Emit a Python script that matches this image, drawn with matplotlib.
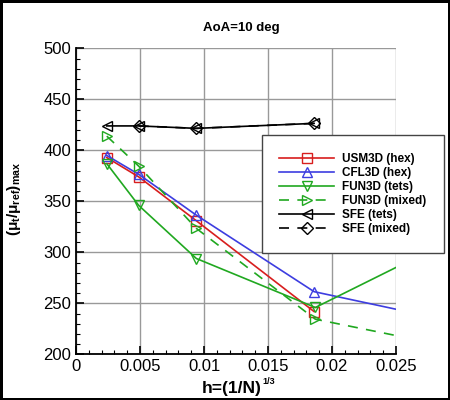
import matplotlib
matplotlib.use('Agg')
import matplotlib.pyplot as plt
from matplotlib.ticker import MultipleLocator

plt.rcParams['font.family'] = ['Liberation Sans', 'DejaVu Sans']
plt.rcParams['mathtext.fontset'] = 'custom'
plt.rcParams['mathtext.rm'] = 'Liberation Sans:bold'
plt.rcParams['mathtext.it'] = 'Liberation Sans:bold'
plt.rcParams['mathtext.bf'] = 'Liberation Sans:bold'

# grid spacing h for each code (last entries lie past the plotted range)
h_usm = [0.0024, 0.0049, 0.0094, 0.0186]
mu_usm = [393, 374, 331, 242]

h_cfl = [0.0024, 0.0049, 0.0094, 0.0186, 0.037]
mu_cfl = [395, 376.5, 336.5, 261.5, 212]

h_fun_tets = [0.0024, 0.0049, 0.0094, 0.0187, 0.037]
mu_fun_tets = [387, 346, 294, 246, 360]

h_fun_mix = [0.0024, 0.0049, 0.0094, 0.0187, 0.037]
mu_fun_mix = [414, 384.5, 323.5, 234.5, 188]

h_sfe_tets = [0.0024, 0.0049, 0.0094, 0.0186]
mu_sfe_tets = [424, 424, 421.6, 426.5]

h_sfe_mix = [0.0049, 0.0094, 0.0186]
mu_sfe_mix = [424, 421.6, 426.5]

fig = plt.figure(figsize=(4.5, 4.0), dpi=100)
fig.patch.set_edgecolor('black')
fig.patch.set_linewidth(2.5)
ax = fig.add_axes([0.169, 0.114, 0.711, 0.765])

ms = 7
ax.plot(h_usm, mu_usm, color='#d81e1e', lw=1.2, marker='s', ms=ms, mfc='none', label='USM3D (hex)')
ax.plot(h_cfl, mu_cfl, color='#3d3de0', lw=1.2, marker='^', ms=ms, mfc='none', label='CFL3D (hex)', markevery=[0, 1, 2, 3])
ax.plot(h_fun_tets, mu_fun_tets, color='#20a820', lw=1.2, marker='v', ms=ms, mfc='none', label='FUN3D (tets)', markevery=[0, 1, 2, 3])
ax.plot(h_fun_mix, mu_fun_mix, color='#20a820', lw=1.2, ls=(0, (6, 5)), marker='>', ms=ms, mfc='none', label='FUN3D (mixed)', markevery=[0, 1, 2, 3])
ax.plot(h_sfe_tets, mu_sfe_tets, color='black', lw=1.2, marker='<', ms=ms, mfc='none', label='SFE (tets)')
ax.plot(h_sfe_mix, mu_sfe_mix, color='black', lw=1.2, ls=(0, (6, 5)), marker='D', ms=6, mfc='none', label='SFE (mixed)')

ax.set_xlim(0, 0.025)
ax.set_ylim(200, 500)
ax.xaxis.set_minor_locator(MultipleLocator(0.001))
ax.yaxis.set_major_locator(MultipleLocator(50))
ax.yaxis.set_minor_locator(MultipleLocator(10))
ax.set_xticks([0, 0.005, 0.01, 0.015, 0.02, 0.025])
ax.set_xticklabels(['0', '0.005', '0.01', '0.015', '0.02', '0.025'])
ax.tick_params(which='both', direction='in', top=False, right=False, labelsize=12)
ax.tick_params(which='major', length=6, width=1.2)
ax.tick_params(which='minor', length=3, width=0.8)

ax.grid(True, which='major', color='#999999', lw=1.0)
ax.yaxis.get_gridlines()[-1].set_visible(False)
ax.spines['top'].set_visible(False)
ax.spines['right'].set_visible(False)
ax.spines['left'].set_linewidth(1.3)
ax.spines['bottom'].set_linewidth(1.3)

fig.text(241 / 450, 1 - 28 / 400, 'AoA=10 deg', fontsize=9.5, fontweight='bold',
         ha='center', va='center')
# x label with a small superscript, as in the original
fig.text(262 / 450, 1 - 388 / 400, 'h=(1/N)', fontsize=12.5, fontweight='bold',
         ha='right', va='center')
fig.text(262.5 / 450, 1 - 382 / 400, '1/3', fontsize=6.5, fontweight='bold',
         ha='left', va='center')
ax.set_ylabel(r'$(\mu_t/\mu_{ref})_{max}$', fontsize=11)
ax.yaxis.set_label_coords(-0.165, 0.51)

leg = ax.legend(loc='upper right', bbox_to_anchor=(444 / 450, 1 - 135 / 400),
                bbox_transform=fig.transFigure, fancybox=False, framealpha=1,
                edgecolor='#444444', handlelength=4.6, borderaxespad=0,
                labelspacing=0.18, borderpad=1.5, handletextpad=0.7,
                prop={'weight': 'bold', 'size': 8.5})
leg.get_frame().set_linewidth(1.0)

fig.savefig('out.png', dpi=100)
